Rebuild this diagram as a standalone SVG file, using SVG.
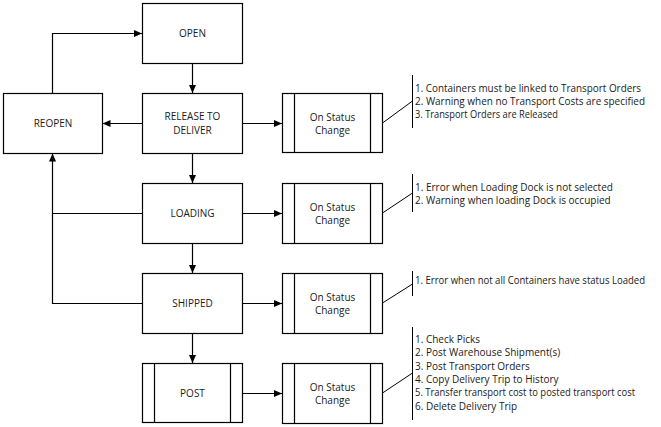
<svg xmlns="http://www.w3.org/2000/svg" width="661" height="427" viewBox="0 0 661 427">
<defs>
<style>
.box{fill:#fff;stroke:#000;stroke-width:1.2}
.ln{fill:none;stroke:#000;stroke-width:1.2}
.thin{fill:none;stroke:#000;stroke-width:1}
text{font-family:"Open Sans","Liberation Sans",sans-serif;font-size:10px;fill:#1a1a1a}
.c{text-anchor:middle}
</style>
<marker id="ah" markerWidth="9" markerHeight="8" refX="8" refY="4" orient="auto" markerUnits="userSpaceOnUse"><path d="M0,0.5 L8,4 L0,7.5 z" fill="#000"/></marker>
</defs>
<rect width="661" height="427" fill="#fff"/>
<g id="connectors">
<path class="ln" d="M192.5,63.5 V93" marker-end="url(#ah)"/>
<path class="ln" d="M142.5,123.5 H102.5" marker-end="url(#ah)"/>
<path class="ln" d="M52.5,93.5 V33.5 H142" marker-end="url(#ah)"/>
<path class="ln" d="M242.5,123.5 H282" marker-end="url(#ah)"/>
<path class="ln" d="M192.5,153.5 V183" marker-end="url(#ah)"/>
<path class="ln" d="M142.5,213.5 H52.5 V153.5" marker-end="url(#ah)"/>
<path class="ln" d="M142.5,303.5 H52.5 V213.5"/>
<path class="ln" d="M242.5,213.5 H282" marker-end="url(#ah)"/>
<path class="ln" d="M192.5,243.5 V273" marker-end="url(#ah)"/>
<path class="ln" d="M242.5,303.5 H282" marker-end="url(#ah)"/>
<path class="ln" d="M192.5,333.5 V363" marker-end="url(#ah)"/>
<path class="ln" d="M242.5,393.5 H282" marker-end="url(#ah)"/>
</g>
<g id="open"><rect class="box" x="142.5" y="3.5" width="100" height="60"/><text class="c" x="192.5" y="36.7">OPEN</text></g>
<g id="reopen"><rect class="box" x="3.5" y="93.5" width="99" height="60"/><text class="c" x="53" y="126.5">REOPEN</text></g>
<g id="release"><rect class="box" x="142.5" y="93.5" width="100" height="60"/><text class="c" x="192.5" y="120.3">RELEASE TO</text><text class="c" x="192.5" y="133.5">DELIVER</text></g>
<g id="loading"><rect class="box" x="142.5" y="183.5" width="100" height="60"/><text class="c" x="192.5" y="216.5">LOADING</text></g>
<g id="shipped"><rect class="box" x="142.5" y="273.5" width="100" height="60"/><text class="c" x="192.5" y="306.5">SHIPPED</text></g>
<g id="post"><rect class="box" x="142.5" y="363.5" width="100" height="59"/><path class="ln" d="M154.5,363.5 V422.5 M230.5,363.5 V422.5"/><text class="c" x="192.5" y="396.5">POST</text></g>
<g id="osc1"><rect class="box" x="282.5" y="93.5" width="100" height="59"/><path class="ln" d="M294.5,93.5 V152.5 M370.5,93.5 V152.5"/><text class="c" x="332.5" y="120.5">On Status</text><text class="c" x="332.5" y="133.7">Change</text></g>
<g id="osc2"><rect class="box" x="282.5" y="183.5" width="100" height="60"/><path class="ln" d="M294.5,183.5 V243.5 M370.5,183.5 V243.5"/><text class="c" x="332.5" y="210.5">On Status</text><text class="c" x="332.5" y="223.7">Change</text></g>
<g id="osc3"><rect class="box" x="282.5" y="273.5" width="100" height="60"/><path class="ln" d="M294.5,273.5 V333.5 M370.5,273.5 V333.5"/><text class="c" x="332.5" y="300.5">On Status</text><text class="c" x="332.5" y="313.7">Change</text></g>
<g id="osc4"><rect class="box" x="282.5" y="363.5" width="100" height="60"/><path class="ln" d="M294.5,363.5 V423.5 M370.5,363.5 V423.5"/><text class="c" x="332.5" y="390.5">On Status</text><text class="c" x="332.5" y="403.7">Change</text></g>
<g id="note1"><path class="thin" d="M382.5,123 L412.5,101 M412.5,75 V128"/>
<text x="415" y="91.8" textLength="226" lengthAdjust="spacingAndGlyphs">1. Containers must be linked to Transport Orders</text>
<text x="415" y="105.1" textLength="230" lengthAdjust="spacingAndGlyphs">2. Warning when no Transport Costs are specified</text>
<text x="415" y="118.4" textLength="143" lengthAdjust="spacingAndGlyphs">3. Transport Orders are Released</text></g>
<g id="note2"><path class="thin" d="M382.5,213 L412.5,193 M412.5,174 V212"/>
<text x="415" y="190.5">1. Error when Loading Dock is not selected</text>
<text x="415" y="203.8">2. Warning when loading Dock is occupied</text></g>
<g id="note3"><path class="thin" d="M382.5,303 L412.5,284 M412.5,271 V296"/>
<text x="415" y="283.6" textLength="230" lengthAdjust="spacingAndGlyphs">1. Error when not all Containers have status Loaded</text></g>
<g id="note4"><path class="thin" d="M382.5,393 L412.5,373 M412.5,327 V420"/>
<text x="415" y="343">1. Check Picks</text>
<text x="415" y="356.3">2. Post Warehouse Shipment(s)</text>
<text x="415" y="369.6">3. Post Transport Orders</text>
<text x="415" y="382.9">4. Copy Delivery Trip to History</text>
<text x="415" y="396.2" textLength="220" lengthAdjust="spacingAndGlyphs">5. Transfer transport cost to posted transport cost</text>
<text x="415" y="409.5">6. Delete Delivery Trip</text></g>
</svg>
